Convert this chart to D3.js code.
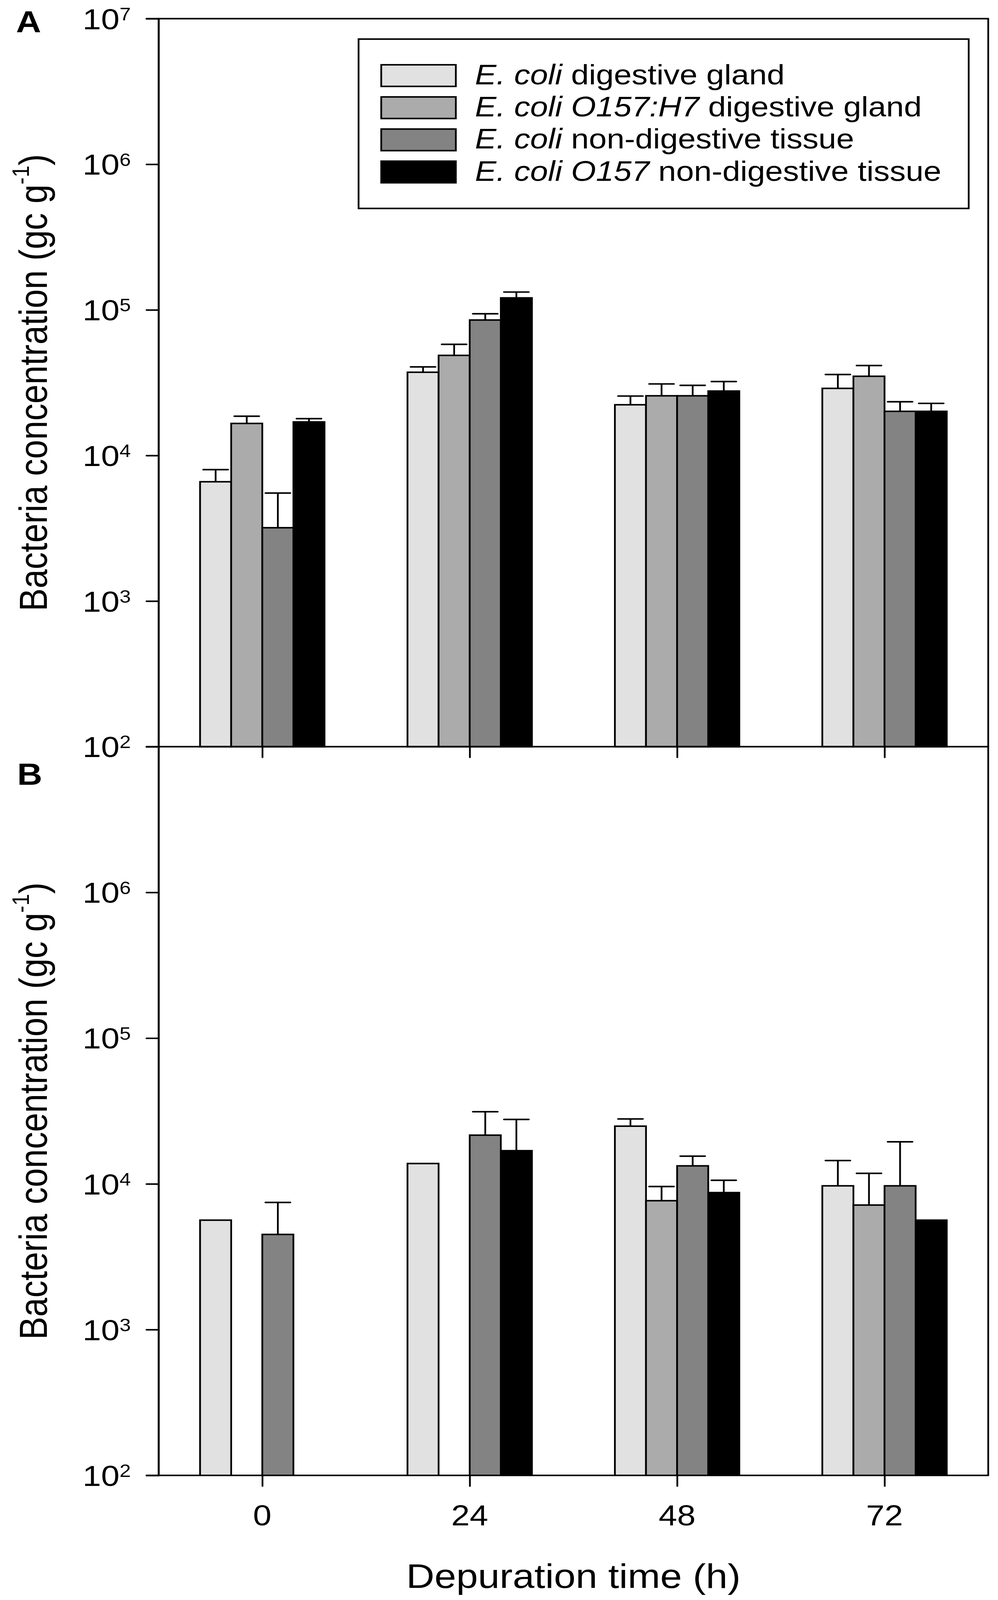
<!DOCTYPE html>
<html>
<head>
<meta charset="utf-8">
<script src="https://cdn.jsdelivr.net/npm/d3@7"></script>
<style>
  html, body { margin: 0; padding: 0; background: #fff; overflow: hidden; }
  svg { display: block; }
  text { font-family: "Liberation Sans", Arial, sans-serif; fill: #000; }
</style>
</head>
<body>
<div id="chart"></div>
<script>
// ---------------- DATA ----------------
const times = [0, 24, 48, 72];
const xTickLabels = ["0", "24", "48", "72"];
const yTickExponents = [2, 3, 4, 5, 6, 7];

const seriesKeys = ["ecoliDG", "o157DG", "ecoliNDT", "o157NDT"];
const seriesColors = ["#e1e1e1", "#ababab", "#838383", "#000000"];
const legendItalic = ["E. coli", "E. coli O157:H7", "E. coli", "E. coli O157"];
const legendNormal = [" digestive gland", " digestive gland", " non-digestive tissue", " non-digestive tissue"];

// Panel A (gc g-1), mean and upper error (SE)
const A_ecoliDG    = [6600, 37300, 22300, 28900];
const A_ecoliDG_err = [1400, 3300, 3300, 7100];
const A_o157DG     = [16600, 48700, 25700, 35000];
const A_o157DG_err  = [2000, 9300, 5300, 6500];
const A_ecoliNDT   = [3190, 85200, 25700, 20100];
const A_ecoliNDT_err = [2330, 8900, 4600, 3300];
const A_o157NDT    = [17000, 120900, 27700, 20100];
const A_o157NDT_err = [900, 11700, 4500, 2700];

// Panel B
const B_ecoliDG    = [5640, 13800, 24900, 9700];
const B_ecoliDG_err = [null, null, 3000, 4760];
const B_o157DG     = [null, null, 7670, 7160];
const B_o157DG_err  = [null, null, 1930, 4660];
const B_ecoliNDT   = [4500, 21600, 13300, 9700];
const B_ecoliNDT_err = [2960, 9700, 2200, 9750];
const B_o157NDT    = [null, 16900, 8720, 5640];
const B_o157NDT_err = [null, 10800, 1870, null];

const panelA = [
  {mean: A_ecoliDG, err: A_ecoliDG_err},
  {mean: A_o157DG, err: A_o157DG_err},
  {mean: A_ecoliNDT, err: A_ecoliNDT_err},
  {mean: A_o157NDT, err: A_o157NDT_err}
];
const panelB = [
  {mean: B_ecoliDG, err: B_ecoliDG_err},
  {mean: B_o157DG, err: B_o157DG_err},
  {mean: B_ecoliNDT, err: B_ecoliNDT_err},
  {mean: B_o157NDT, err: B_o157NDT_err}
];

// ---------------- LAYOUT ----------------
const W = 2555, H = 4667;
const left = 406, right = 2530;
const topA = 54.5, midY = 2178, botB = 4303.5;
const SW = 4.5;

// fit the whole figure into the visible viewport
const vw = window.innerWidth || W;
const vh = window.innerHeight || H;

const svg = d3.select("#chart").append("svg")
  .attr("width", vw).attr("height", vh)
  .attr("viewBox", `0 0 ${W} ${H}`)
  .attr("preserveAspectRatio", "none");
svg.append("rect").attr("width", W).attr("height", H).attr("fill", "#fff");

const x = d3.scaleLinear().domain([-12, 84]).range([left, right]);
const yA = d3.scaleLog().domain([1e2, 1e7]).range([midY, topA]);
const yB = d3.scaleLog().domain([1e2, 1e7]).range([botB, midY]);

const groupWidth = 14.4; // hours
const barW = groupWidth / 4;

function drawPanel(data, y, showTopLabel) {
  const g = svg.append("g");
  data.forEach((s, si) => {
    times.forEach((t, ti) => {
      const v = s.mean[ti];
      if (v == null) return;
      const x0 = x(t - groupWidth / 2 + si * barW);
      const x1 = x(t - groupWidth / 2 + (si + 1) * barW);
      g.append("rect")
        .attr("x", x0).attr("y", y(v))
        .attr("width", x1 - x0).attr("height", y(1e2) - y(v))
        .attr("fill", seriesColors[si])
        .attr("stroke", "#000").attr("stroke-width", SW);
    });
  });
  // error bars
  data.forEach((s, si) => {
    times.forEach((t, ti) => {
      const v = s.mean[ti], e = s.err[ti];
      if (v == null || e == null) return;
      const cx = x(t - groupWidth / 2 + (si + 0.5) * barW);
      const capHalf = (x(barW) - x(0)) * 0.4;
      g.append("line")
        .attr("x1", cx).attr("x2", cx)
        .attr("y1", y(v)).attr("y2", y(v + e))
        .attr("stroke", "#000").attr("stroke-width", SW);
      g.append("line")
        .attr("x1", cx - capHalf).attr("x2", cx + capHalf)
        .attr("y1", y(v + e)).attr("y2", y(v + e))
        .attr("stroke", "#000").attr("stroke-width", SW)
        .attr("stroke-linecap", "round");
    });
  });

  // y axis
  const yAxis = d3.axisLeft(y)
    .tickValues(yTickExponents.map(p => Math.pow(10, p)))
    .tickSize(31).tickSizeOuter(0).tickFormat("");
  const ga = svg.append("g").attr("transform", `translate(${left},0)`).call(yAxis);
  ga.selectAll("path, line").attr("stroke", "#000").attr("stroke-width", SW)
    .attr("stroke-linecap", "round");

  yTickExponents.forEach(p => {
    if (p === 7 && !showTopLabel) return;
    const ty = y(Math.pow(10, p));
    const txt = svg.append("text")
      .attr("x", 335).attr("y", ty + 30.5)
      .attr("text-anchor", "end")
      .attr("font-size", 85);
    txt.append("tspan").text("10");
    txt.append("tspan").attr("dy", -26).attr("font-size", 52).text(String(p));
  });

  // x axis ticks
  const xAxis = d3.axisBottom(x).tickValues(times).tickSize(31).tickSizeOuter(0).tickFormat("");
  const gx = svg.append("g").attr("transform", `translate(0,${y(1e2)})`).call(xAxis);
  gx.select("path.domain").remove();
  gx.selectAll("line").attr("stroke", "#000").attr("stroke-width", SW).attr("stroke-linecap", "round");

  // y title
  const cy = (y(1e2) + y(1e7)) / 2;
  const tt = svg.append("text")
    .attr("transform", `translate(120,${cy}) rotate(-90)`)
    .attr("text-anchor", "middle")
    .attr("font-size", 100);
  tt.append("tspan").text("Bacteria concentration (gc g");
  tt.append("tspan").attr("dy", -46).attr("font-size", 62).text("-1");
  tt.append("tspan").attr("dy", 46).text(")");
}

drawPanel(panelA, yA, true);
drawPanel(panelB, yB, false);

// frame: top, right, horizontal lines incl. left extension
const frame = svg.append("g").attr("stroke", "#000").attr("stroke-width", SW).attr("fill", "none");
frame.append("line").attr("x1", 375).attr("x2", right).attr("y1", topA).attr("y2", topA).attr("stroke-linecap", "round");
frame.append("line").attr("x1", 375).attr("x2", right).attr("y1", midY).attr("y2", midY).attr("stroke-linecap", "round");
frame.append("line").attr("x1", 375).attr("x2", right).attr("y1", botB).attr("y2", botB).attr("stroke-linecap", "round");
frame.append("line").attr("x1", right).attr("x2", right).attr("y1", topA).attr("y2", botB);
frame.append("line").attr("x1", left).attr("x2", left).attr("y1", topA).attr("y2", botB);

// x tick labels (bottom panel)
times.forEach((t, i) => {
  svg.append("text")
    .attr("x", x(t)).attr("y", 4449)
    .attr("text-anchor", "middle")
    .attr("font-size", 85)
    .text(xTickLabels[i]);
});

// x title
svg.append("text")
  .attr("x", (left + right) / 2).attr("y", 4632)
  .attr("text-anchor", "middle")
  .attr("font-size", 100)
  .text("Depuration time (h)");

// panel labels
svg.append("text").attr("x", 41).attr("y", 95).attr("font-size", 89).attr("font-weight", "bold").text("A");
svg.append("text").attr("x", 44).attr("y", 2289).attr("font-size", 89).attr("font-weight", "bold").text("B");

// legend
const lg = svg.append("g");
lg.append("rect").attr("x", 918).attr("y", 114).attr("width", 1562).attr("height", 494)
  .attr("fill", "#fff").attr("stroke", "#000").attr("stroke-width", SW);
seriesKeys.forEach((k, i) => {
  const ry = 189 + i * 93.7;
  lg.append("rect").attr("x", 976).attr("y", ry).attr("width", 191).attr("height", 63)
    .attr("fill", seriesColors[i]).attr("stroke", "#000").attr("stroke-width", SW);
  const t = lg.append("text").attr("x", 1216).attr("y", ry + 57).attr("font-size", 82);
  t.append("tspan").attr("font-style", "italic").text(legendItalic[i]);
  t.append("tspan").text(legendNormal[i]);
});
</script>
</body>
</html>
